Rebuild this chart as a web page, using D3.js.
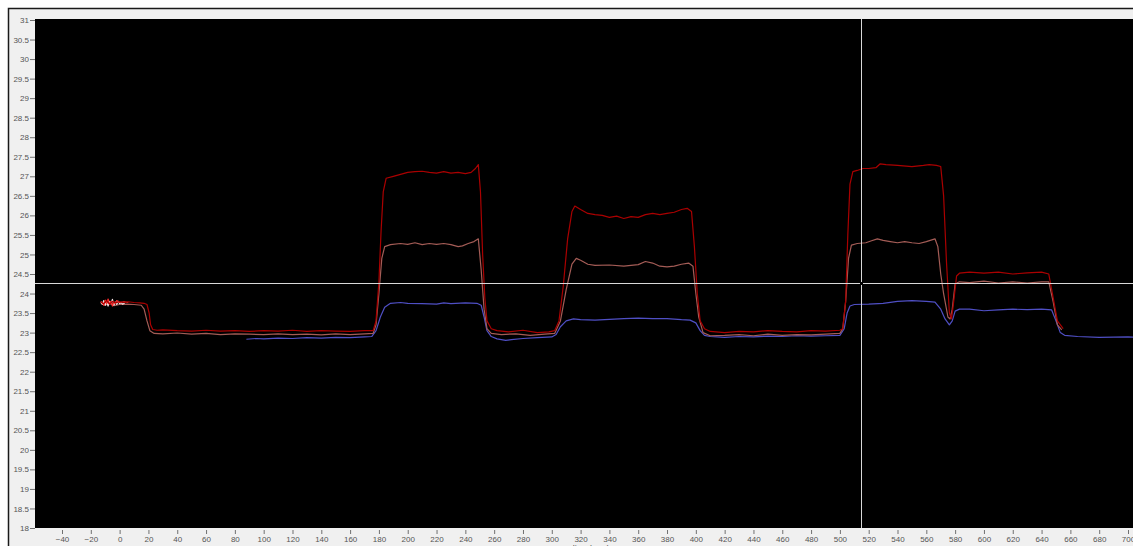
<!DOCTYPE html>
<html>
<head>
<meta charset="utf-8">
<script src="https://cdn.jsdelivr.net/npm/d3@7"></script>
<style>
  html, body { margin: 0; padding: 0; background: #ffffff; overflow: hidden; }
  text { font-family: "Liberation Sans", Arial, sans-serif; }
</style>
</head>
<body>
<div id="chart"></div>
<script>
// x = radius, y = temperature
const xTicks = d3.range(-40, 701, 20)
const yTicks = d3.range(18, 31.01, 0.5)

const topRed = [
  [-13, 23.78], [-11, 23.74], [-9, 23.82], [-7, 23.73], [-5, 23.8], [-3, 23.76], [0, 23.79], [3, 23.77],
  [6, 23.79], [10, 23.77], [14, 23.76], [17, 23.75], [19, 23.72], [20.5, 23.5], [21.5, 23.2], [23, 23.08],
  [26, 23.06], [30, 23.07], [40, 23.05], [50, 23.04], [60, 23.06], [70, 23.04], [80, 23.05], [90, 23.03],
  [100, 23.05], [110, 23.04], [120, 23.06], [130, 23.03], [140, 23.05], [150, 23.04], [160, 23.03],
  [170, 23.05], [176, 23.05], [178, 23.3], [180, 24.3], [181.5, 25.6], [183, 26.6], [185, 26.95],
  [190, 27.0], [195, 27.05], [200, 27.1], [205, 27.12], [210, 27.13], [215, 27.1], [220, 27.08],
  [225, 27.12], [230, 27.08], [235, 27.1], [240, 27.07], [244, 27.1], [247, 27.2], [249, 27.3],
  [250.5, 26.6], [252, 25.0], [253.5, 23.9], [255, 23.3], [258, 23.1], [262, 23.05], [270, 23.02],
  [280, 23.06], [290, 23.0], [298, 23.02], [302, 23.05], [305, 23.3], [308, 24.2], [311, 25.4],
  [314, 26.1], [316, 26.24], [320, 26.15], [325, 26.05], [330, 26.02], [335, 26.0], [340, 25.95],
  [345, 25.98], [350, 25.92], [355, 25.97], [360, 25.95], [365, 26.02], [370, 26.05], [375, 26.02],
  [380, 26.05], [385, 26.08], [390, 26.15], [394, 26.18], [397, 26.1], [399, 25.2], [401, 24.0],
  [403, 23.3], [406, 23.1], [410, 23.03], [420, 23.0], [430, 23.03], [440, 23.02], [450, 23.05],
  [460, 23.03], [470, 23.02], [480, 23.05], [490, 23.04], [500, 23.06], [502, 23.1], [504, 23.8],
  [505.5, 25.5], [507, 26.8], [509, 27.12], [512, 27.15], [516, 27.2], [520, 27.2], [525, 27.22],
  [528, 27.32], [532, 27.3], [540, 27.28], [550, 27.25], [558, 27.28], [562, 27.3], [567, 27.28],
  [570, 27.25], [572, 26.5], [574, 24.8], [576, 23.5], [577.5, 23.35], [579, 23.8], [581, 24.45],
  [583, 24.52], [590, 24.55], [600, 24.52], [610, 24.55], [620, 24.5], [630, 24.53], [640, 24.55],
  [645, 24.5], [648, 23.9], [651, 23.3], [655, 23.1]
]

const midRose = [
  [-13, 23.75], [-10, 23.7], [-7, 23.76], [-4, 23.69], [0, 23.72], [5, 23.73], [10, 23.72], [15, 23.7],
  [17, 23.6], [19, 23.3], [21, 23.05], [24, 22.98], [30, 22.97], [40, 22.99], [50, 22.96], [60, 22.98],
  [70, 22.95], [80, 22.97], [90, 22.96], [100, 22.95], [110, 22.97], [120, 22.95], [130, 22.96],
  [140, 22.94], [150, 22.97], [160, 22.95], [170, 22.97], [176, 22.98], [178, 23.2], [180, 24.0],
  [182, 24.9], [184, 25.2], [188, 25.25], [195, 25.28], [200, 25.26], [205, 25.3], [210, 25.25],
  [215, 25.28], [220, 25.26], [225, 25.28], [230, 25.25], [235, 25.2], [238, 25.22], [242, 25.28],
  [246, 25.33], [249, 25.4], [251, 24.6], [253, 23.6], [255, 23.1], [258, 22.98], [265, 22.95],
  [275, 22.97], [285, 22.93], [295, 22.96], [302, 22.98], [306, 23.3], [310, 24.1], [314, 24.75],
  [317, 24.9], [320, 24.85], [325, 24.75], [330, 24.72], [340, 24.73], [350, 24.7], [360, 24.74],
  [365, 24.82], [370, 24.78], [375, 24.7], [380, 24.68], [385, 24.7], [390, 24.75], [395, 24.78],
  [398, 24.7], [400, 24.0], [402, 23.4], [405, 23.0], [410, 22.92], [420, 22.93], [430, 22.95],
  [440, 22.92], [450, 22.96], [460, 22.93], [470, 22.95], [480, 22.94], [490, 22.96], [500, 22.98],
  [502, 23.1], [504, 23.8], [506, 24.9], [508, 25.24], [512, 25.28], [518, 25.3], [522, 25.35],
  [526, 25.4], [530, 25.36], [535, 25.33], [540, 25.3], [545, 25.33], [550, 25.3], [555, 25.28],
  [560, 25.33], [566, 25.4], [568, 25.2], [570, 24.5], [572, 24.0], [575, 23.4], [576.5, 23.35],
  [578, 23.6], [580, 24.25], [583, 24.3], [590, 24.28], [600, 24.32], [610, 24.27], [620, 24.3],
  [630, 24.27], [640, 24.3], [645, 24.3], [648, 23.8], [651, 23.2], [654, 23.07]
]

const lowBlue = [
  [88, 22.83], [95, 22.85], [100, 22.84], [110, 22.86], [120, 22.85], [130, 22.87], [140, 22.86],
  [150, 22.88], [160, 22.87], [170, 22.89], [175, 22.9], [178, 23.05], [181, 23.4], [184, 23.65],
  [188, 23.75], [195, 23.77], [200, 23.75], [210, 23.74], [220, 23.73], [225, 23.76], [230, 23.74],
  [240, 23.76], [248, 23.75], [251, 23.7], [253, 23.4], [255, 23.05], [258, 22.9], [262, 22.84],
  [268, 22.8], [272, 22.82], [280, 22.85], [290, 22.87], [300, 22.89], [303, 22.95], [306, 23.15],
  [310, 23.3], [315, 23.35], [320, 23.33], [330, 23.32], [340, 23.34], [350, 23.36], [360, 23.37],
  [370, 23.36], [380, 23.36], [390, 23.33], [396, 23.32], [400, 23.25], [403, 23.05], [406, 22.93],
  [410, 22.9], [420, 22.88], [430, 22.9], [440, 22.89], [450, 22.91], [460, 22.9], [470, 22.92],
  [480, 22.91], [490, 22.92], [500, 22.93], [503, 23.1], [505, 23.5], [507, 23.68], [510, 23.72],
  [520, 23.73], [530, 23.75], [540, 23.8], [550, 23.82], [560, 23.8], [566, 23.78], [570, 23.6],
  [573, 23.35], [576, 23.2], [578, 23.3], [580, 23.55], [583, 23.6], [590, 23.6], [600, 23.56],
  [610, 23.58], [620, 23.6], [630, 23.59], [640, 23.6], [647, 23.58], [650, 23.3], [653, 23.0],
  [656, 22.93], [665, 22.9], [680, 22.88], [700, 22.89], [705, 22.88]
]

// short noisy traces at the very start
const startWhite = [
  [-13, 23.78], [-12, 23.72], [-11, 23.82], [-10, 23.7], [-9, 23.79], [-8, 23.68], [-7, 23.8],
  [-6, 23.74], [-5, 23.85], [-4, 23.7], [-3, 23.78], [-2, 23.72], [-1, 23.8], [0, 23.74],
  [1, 23.77], [2, 23.73], [3.5, 23.75]
]
const startRed = [
  [-13, 23.8], [-12, 23.76], [-11, 23.7], [-10, 23.83], [-9, 23.74], [-8, 23.86], [-7, 23.72],
  [-6, 23.8], [-5, 23.68], [-4, 23.79], [-3, 23.74], [-2, 23.82], [0, 23.77], [3, 23.79], [6, 23.77]
]

const cursorX = 514.4
const cursorY = 24.27

const width = 1133, height = 546
const plot = { left: 35, top: 19, right: 1140, bottom: 528 }

const svg = d3.select("#chart").append("svg")
  .attr("width", width)
  .attr("height", height)

// panel
svg.append("rect")
  .attr("x", 8.5).attr("y", 8.5)
  .attr("width", width).attr("height", height)
  .attr("fill", "#f0f0f0")
  .attr("stroke", "#1a1a1a")
  .attr("stroke-width", 1.5)

svg.append("rect")
  .attr("x", plot.left).attr("y", plot.top)
  .attr("width", plot.right - plot.left).attr("height", plot.bottom - plot.top)
  .attr("fill", "#000")

svg.append("clipPath").attr("id", "clip")
  .append("rect")
  .attr("x", plot.left).attr("y", plot.top)
  .attr("width", plot.right - plot.left).attr("height", plot.bottom - plot.top)

const x = d3.scaleLinear().domain([-40, 700]).range([62, 1128])
const y = d3.scaleLinear().domain([18, 31]).range([528, 20])

// Y axis
const yAxis = svg.append("g")
  .attr("transform", `translate(${plot.left},0)`)
  .call(d3.axisLeft(y).tickValues(yTicks).tickSize(5).tickPadding(1).tickFormat(d3.format("")))
yAxis.select(".domain").remove()
yAxis.selectAll("line").attr("stroke", "#707070")
yAxis.selectAll("text").attr("fill", "#555").attr("font-size", 8)
  .attr("font-family", "Liberation Sans, Arial, sans-serif")

// X axis
const xAxis = svg.append("g")
  .attr("transform", `translate(0,${plot.bottom + 2})`)
  .call(d3.axisBottom(x).tickValues(xTicks).tickSize(4).tickPadding(2).tickFormat(d3.format("")))
xAxis.select(".domain").remove()
xAxis.selectAll("line").attr("stroke", "#707070")
xAxis.selectAll("text").attr("fill", "#555").attr("font-size", 8)
  .attr("font-family", "Liberation Sans, Arial, sans-serif")

svg.append("text")
  .attr("x", 584).attr("y", 552)
  .attr("text-anchor", "middle")
  .attr("font-size", 9)
  .attr("fill", "#555")
  .text("Radius (mm)")

// traces
const line = d3.line().x(d => x(d[0])).y(d => y(d[1]))
const traces = svg.append("g").attr("clip-path", "url(#clip)")

const series = [
  { data: lowBlue, color: "#4f4fc4" },
  { data: midRose, color: "#a45c56" },
  { data: startWhite, color: "#f0e0e0" },
  { data: startRed, color: "#ff2a2a" },
  { data: topRed, color: "#aa0000" }
]
traces.selectAll("path.trace")
  .data(series)
  .enter()
  .append("path")
    .attr("class", "trace")
    .attr("d", d => line(d.data))
    .attr("fill", "none")
    .attr("stroke", d => d.color)
    .attr("stroke-width", 1.2)
    .attr("stroke-linejoin", "round")

// cursor cross-hair
traces.append("line")
  .attr("x1", plot.left).attr("x2", plot.right)
  .attr("y1", Math.round(y(cursorY)) + 0.5).attr("y2", Math.round(y(cursorY)) + 0.5)
  .attr("stroke", "#d8d8d8").attr("stroke-width", 1)
traces.append("line")
  .attr("x1", Math.round(x(cursorX)) + 0.5).attr("x2", Math.round(x(cursorX)) + 0.5)
  .attr("y1", plot.top).attr("y2", plot.bottom)
  .attr("stroke", "#d8d8d8").attr("stroke-width", 1)
traces.append("rect")
  .attr("x", Math.round(x(cursorX)) - 1).attr("y", Math.round(y(cursorY)) - 1)
  .attr("width", 3).attr("height", 3)
  .attr("fill", "#000")
</script>
</body>
</html>
